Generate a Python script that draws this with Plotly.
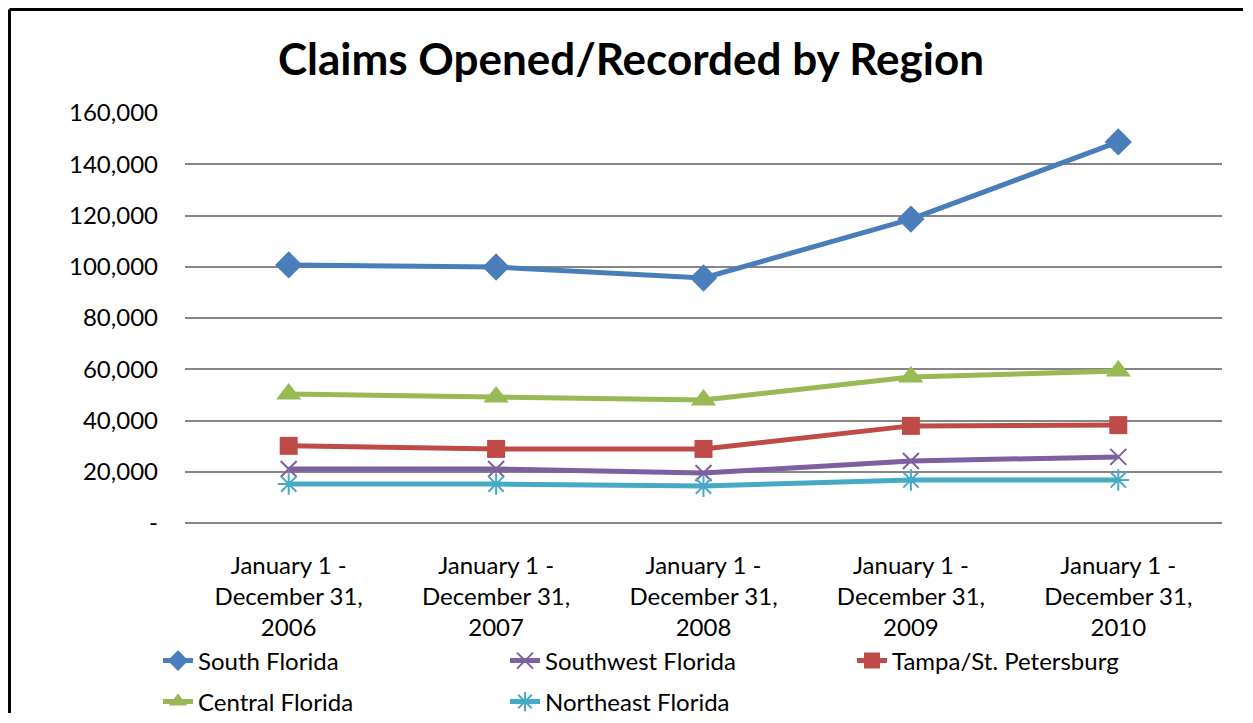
import plotly.graph_objects as go

periods = [
    'January 1 -<br>December 31,<br>2006',
    'January 1 -<br>December 31,<br>2007',
    'January 1 -<br>December 31,<br>2008',
    'January 1 -<br>December 31,<br>2009',
    'January 1 -<br>December 31,<br>2010',
]
south_florida = [100700, 99900, 95600, 118600, 148700]
southwest_florida = [21100, 21100, 19500, 24200, 25800]
tampa_st_petersburg = [30100, 28900, 28900, 37900, 38200]
central_florida = [50300, 49200, 48000, 57000, 59300]
northeast_florida = [15200, 15200, 14400, 16800, 16800]

y_ticks = [0, 20000, 40000, 60000, 80000, 100000, 120000, 140000, 160000]
y_labels = ['-', '20,000', '40,000', '60,000', '80,000', '100,000', '120,000', '140,000', '160,000']

FONT = 'Lato, Carlito, Calibri, sans-serif'

# page body has an 8px margin, so the figure is sized to fit inside it
W, H = 1237, 707
L, R, T, B = 177, 23, 105, 192
PW, PH = W - L - R, H - T - B

series = [
    ('South Florida', south_florida, '#4A7EBB', dict(symbol='diamond', size=21), 'legend'),
    ('Southwest Florida', southwest_florida, '#7D60A0', dict(symbol='x-thin-open', size=16, line=dict(width=2, color='#7D60A0')), 'legend'),
    ('Tampa/St. Petersburg', tampa_st_petersburg, '#BE4B48', dict(symbol='square', size=18), 'legend'),
    ('Central Florida', central_florida, '#98B954', dict(symbol='triangle-up', size=22), 'legend2'),
    ('Northeast Florida', northeast_florida, '#46AAC5', dict(symbol='asterisk-open', size=18, line=dict(width=2, color='#46AAC5')), 'legend2'),
]

fig = go.Figure()
for name, values, color, marker, legend in series:
    marker = dict(marker, color=color)
    fig.add_trace(go.Scatter(
        x=periods,
        y=values,
        name=name,
        mode='lines+markers',
        line=dict(color=color, width=5),
        marker=marker,
        legend=legend,
    ))

legend_style = dict(
    orientation='h',
    x=(150 - L) / PW,
    xanchor='left',
    yanchor='middle',
    entrywidth=302,
    entrywidthmode='pixels',
    font=dict(family=FONT, size=24),
    bgcolor='rgba(0,0,0,0)',
)

# chart frame: only the left and top edges fall inside the picture
frame_left = (1.5 - L) / PW
frame_right = (W - 2 - L) / PW
frame_top = 1 + (T - 1.5) / PH

fig.update_layout(
    width=W,
    height=H,
    margin=dict(l=L, r=R, t=T, b=B, autoexpand=False),
    paper_bgcolor='white',
    plot_bgcolor='white',
    font=dict(family=FONT, size=24, color='black'),
    title=dict(
        text='<b>Claims Opened/Recorded by Region</b>',
        x=623 / W,
        xanchor='center',
        y=1 - 52 / H,
        yanchor='middle',
        font=dict(family=FONT, size=44, color='black'),
    ),
    legend=dict(legend_style, y=(H - B - 653) / PH),
    legend2=dict(legend_style, y=(H - B - 694) / PH),
    shapes=[
        dict(type='line', xref='paper', yref='paper',
             x0=frame_left, x1=frame_left, y0=-(B - 2) / PH, y1=frame_top,
             line=dict(color='black', width=3), layer='below'),
        dict(type='line', xref='paper', yref='paper',
             x0=frame_left, x1=frame_right, y0=frame_top, y1=frame_top,
             line=dict(color='black', width=3), layer='below'),
    ],
)

fig.update_xaxes(
    range=[-0.5, 4.5],
    showgrid=False,
    showline=False,
    ticks='',
    ticklabelstandoff=26,
    tickfont=dict(family=FONT, size=24),
)
fig.update_yaxes(
    range=[0, 160000],
    tickvals=y_ticks,
    ticktext=y_labels,
    showgrid=True,
    gridcolor='#868686',
    gridwidth=2,
    zeroline=True,
    zerolinecolor='#868686',
    zerolinewidth=2,
    showline=False,
    ticks='',
    ticklabelstandoff=26,
    tickfont=dict(family=FONT, size=24),
)

fig.write_html('out.html')
